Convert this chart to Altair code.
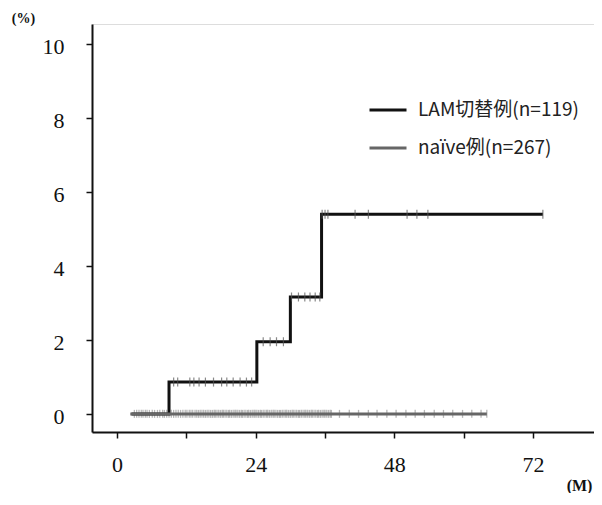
import altair as alt
import pandas as pd

# Series (months, cumulative incidence %)
series_names = ["LAM切替例(n=119)", "naïve例(n=267)"]
lam_t = [2.5, 9.0, 24.2, 30.0, 35.4, 73.7]
lam_y = [0.0, 0.86, 1.95, 3.16, 5.4, 5.4]
naive_t = [2.3, 64.0]
naive_y = [0.0, 0.0]

# censor marks
lam_cens_t = [9.8, 10.5, 12.6, 13.3, 14.2, 15.3, 16.7, 18.1, 19.0, 20.1, 21.3, 22.4, 23.3,
              25.3, 26.5, 27.6, 28.8,
              30.2, 31.4, 32.5, 33.4, 34.3, 35.1,
              35.5, 36.0, 36.5, 41.2, 43.5, 50.2, 51.9, 53.8, 73.7]
lam_cens_y = [0.86] * 13 + [1.95] * 4 + [3.16] * 6 + [5.4] * 9
naive_cens_t = [3.0, 3.4, 3.8, 4.2, 4.5, 4.9, 5.2, 5.6, 6.1, 6.5, 7.0, 7.4, 7.9, 8.2, 8.6,
                9.0, 9.4, 9.8, 10.2, 10.6, 11.0, 11.4, 11.8, 12.1, 12.5, 12.8, 13.1, 13.5,
                13.8, 14.1, 14.4, 14.7, 15.0, 15.3, 15.6, 15.9, 16.2, 16.5, 16.8, 17.0,
                17.3, 17.6, 17.9, 18.2, 18.4, 18.7, 19.0, 19.3, 19.5, 19.8, 20.1, 20.4,
                20.6, 20.9, 21.2, 21.5, 21.7, 22.0, 22.3, 22.6, 22.8, 23.1, 23.4, 23.7,
                23.9, 24.2, 24.5, 24.8, 25.0, 25.3, 25.6, 25.9, 26.1, 26.4, 26.7, 27.0,
                27.2, 27.5, 27.8, 28.1, 28.3, 28.6, 28.9, 29.2, 29.4, 29.7, 30.0, 30.3,
                30.5, 30.8, 31.1, 31.4, 31.6, 31.9, 32.2, 32.5, 32.7, 33.0, 33.3, 33.6,
                33.8, 34.1, 34.4, 34.7, 34.9, 35.2, 35.5, 35.8, 36.0, 36.3, 36.6, 36.9,
                37.1, 38.5, 40.2, 41.8, 43.5, 45.0, 46.7, 48.3, 50.0, 51.6, 53.2, 54.9,
                56.5, 58.1, 59.8, 61.4, 63.0, 64.0]

x_ticks = [0, 12, 24, 36, 48, 60, 72]
y_ticks = [0, 2, 4, 6, 8, 10]

lines = pd.DataFrame({
    "t": lam_t + naive_t,
    "y": lam_y + naive_y,
    "group": [series_names[0]] * len(lam_t) + [series_names[1]] * len(naive_t),
})
lam_c = pd.DataFrame({"t": lam_cens_t, "y": lam_cens_y})
naive_c = pd.DataFrame({"t": naive_cens_t, "y": [0.0] * len(naive_cens_t)})

xscale = alt.Scale(domain=[-4.33, 82.55], nice=False, zero=False)
yscale = alt.Scale(domain=[-0.49, 10.54], nice=False, zero=False)

serif = "Liberation Serif"

xaxis = alt.Axis(values=x_ticks, grid=False, tickSize=6, tickColor="#111", tickWidth=1.5,
                 domainColor="#111", domainWidth=2,
                 labelExpr="datum.value % 24 == 0 ? datum.label : ''",
                 labelFont=serif, labelFontSize=22, labelColor="#111", labelPadding=16,
                 title="(M)", titleFont=serif, titleFontSize=16, titleFontWeight="bold",
                 titleColor="#111", titleX=487, titleY=61, titleAlign="center",
                 titleBaseline="bottom")
yaxis = alt.Axis(values=y_ticks, grid=False, tickSize=6, tickColor="#111", tickWidth=1.5,
                 domainColor="#111", domainWidth=2,
                 labelFont=serif, labelFontSize=22, labelColor="#111", labelPadding=22,
                 labelBaseline="middle", labelOffset=3,
                 title="(%)", titleFont=serif, titleFontSize=14, titleFontWeight="bold",
                 titleColor="#111", titleAngle=0, titleX=-69, titleY=-6,
                 titleAlign="center", titleBaseline="middle")

color = alt.Color("group:N",
                  scale=alt.Scale(domain=series_names, range=["#111111", "#666666"]),
                  legend=alt.Legend(title=None, orient="none", legendX=276, legendY=66,
                                    symbolType="stroke", symbolSize=1369,
                                    symbolStrokeWidth=3, labelFont="Noto Sans CJK JP",
                                    labelFontSize=19, labelColor="#222", labelOffset=10,
                                    labelLimit=300, rowPadding=8, padding=0))

naive_ticks = alt.Chart(naive_c).mark_tick(color="#999999", size=8, thickness=1.3,
                                            orient="vertical").encode(
    x=alt.X("t:Q", scale=xscale, axis=xaxis),
    y=alt.Y("y:Q", scale=yscale, axis=yaxis))

line = alt.Chart(lines).mark_line(interpolate="step-after", strokeWidth=3).encode(
    x=alt.X("t:Q", scale=xscale, axis=xaxis),
    y=alt.Y("y:Q", scale=yscale, axis=yaxis),
    color=color,
    detail="group:N")

lam_ticks = alt.Chart(lam_c).mark_tick(color="#555", size=9, thickness=1.2,
                                        orient="vertical").encode(
    x=alt.X("t:Q", scale=xscale),
    y=alt.Y("y:Q", scale=yscale))

chart = alt.layer(naive_ticks, line, lam_ticks).properties(
    width=502, height=408,
    autosize=alt.AutoSizeParams(type="none"),
    padding={"left": 84, "top": 16, "right": 0, "bottom": 61},
).configure_view(stroke="#111", strokeWidth=2).configure(background="white")

chart.save("out.html", embed_options={"renderer": "svg", "actions": False})
